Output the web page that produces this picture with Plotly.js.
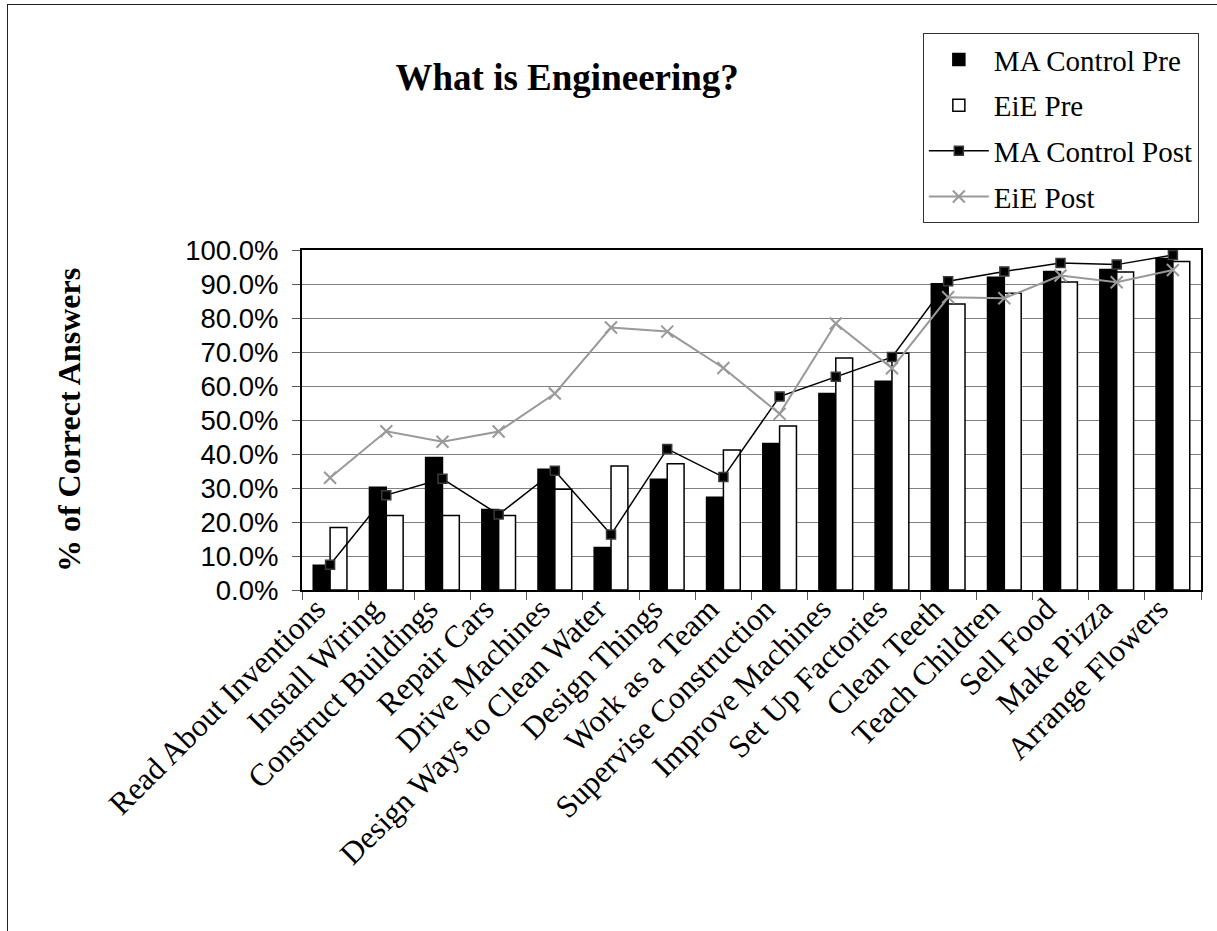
<!DOCTYPE html>
<html>
<head>
<meta charset="utf-8">
<script src="https://cdn.plot.ly/plotly-3.0.1.min.js"></script>
<style>
  html, body { margin: 0; padding: 0; background: #fff; overflow: hidden; }
  #chart { width: 1217px; height: 931px; }
  #frame { position: absolute; left: 7px; top: 4px; width: 3000px; height: 3000px;
           border-left: 1.5px solid #222; border-top: 1.5px solid #222; pointer-events: none; }
</style>
</head>
<body>
<div id="chart"></div>
<div id="frame"></div>
<script>
const categories = [
  "Read About Inventions", "Install Wiring", "Construct Buildings", "Repair Cars",
  "Drive Machines", "Design Ways to Clean Water", "Design Things", "Work as a Team",
  "Supervise Construction", "Improve Machines", "Set Up Factories", "Clean Teeth",
  "Teach Children", "Sell Food", "Make Pizza", "Arrange Flowers"
];
const maControlPre  = [0.073, 0.302, 0.390, 0.237, 0.355, 0.125, 0.326, 0.273, 0.431, 0.578, 0.614, 0.901, 0.920, 0.937, 0.943, 0.975];
const eiePre        = [0.184, 0.219, 0.219, 0.219, 0.296, 0.365, 0.371, 0.412, 0.482, 0.682, 0.696, 0.841, 0.873, 0.906, 0.935, 0.966];
const maControlPost = [0.074, 0.279, 0.327, 0.222, 0.351, 0.163, 0.415, 0.332, 0.569, 0.627, 0.685, 0.908, 0.937, 0.962, 0.957, 0.985];
const eiePost       = [0.330, 0.467, 0.436, 0.466, 0.578, 0.772, 0.760, 0.653, 0.518, 0.784, 0.652, 0.861, 0.858, 0.925, 0.905, 0.941];
const yTickVals = [0, 0.1, 0.2, 0.3, 0.4, 0.5, 0.6, 0.7, 0.8, 0.9, 1.0];

const serif = "Times New Roman, Liberation Serif, serif";
const sans = "Arial, Liberation Sans, sans-serif";

const traces = [
  { type: "bar", name: "MA Control Pre", legendgroup: "g1", x: categories, y: maControlPre,
    marker: { color: "#000000", line: { color: "#000000", width: 1.5 } } },
  { type: "bar", name: "EiE Pre", legendgroup: "g2", x: categories, y: eiePre,
    marker: { color: "#ffffff", line: { color: "#000000", width: 1.5 } } },
  { type: "scatter", mode: "lines+markers", name: "MA Control Post", legendgroup: "g3", x: categories, y: maControlPost,
    line: { color: "#000000", width: 1.5 },
    marker: { symbol: "square", size: 9, color: "#000000", line: { color: "#3a3a3a", width: 1.5 } } },
  { type: "scatter", mode: "lines+markers", name: "EiE Post", legendgroup: "g4", x: categories, y: eiePost,
    line: { color: "#999999", width: 2 },
    marker: { symbol: "x-thin", size: 12, color: "#999999", line: { color: "#999999", width: 2 } } }
];

const layout = {
  width: 1217, height: 931,
  margin: { l: 301.5, r: 15.5, t: 250, b: 341 },
  paper_bgcolor: "#ffffff", plot_bgcolor: "#ffffff",
  barmode: "group", bargap: 0.4, bargroupgap: 0,
  showlegend: true,
  title: { text: "<b>What is Engineering?</b>", font: { family: serif, size: 37, color: "#000" },
           xref: "paper", x: 0.295, xanchor: "center", yref: "container", y: 0.917, yanchor: "middle" },
  legend: { x: 0.6906, y: 1.638, xanchor: "left", yanchor: "top",
            font: { family: serif, size: 29, color: "#000" }, itemwidth: 60, tracegroupgap: 5,
            bordercolor: "#333", borderwidth: 1, bgcolor: "#fff", traceorder: "grouped" },
  xaxis: { type: "category", range: [-0.5, 15.5], tickangle: -45, tickson: "boundaries", ticks: "outside", ticklen: 8,
           tickcolor: "#555", tickwidth: 1, showgrid: false, showline: true, linecolor: "#000",
           linewidth: 2, mirror: true, ticklabelshift: -14, ticklabelstandoff: -14,
           tickfont: { family: serif, size: 31.5, color: "#000" } },
  yaxis: { range: [0, 1], tickvals: yTickVals, tickformat: ".1%", ticks: "outside", ticklen: 8,
           tickcolor: "#555", tickwidth: 1, showgrid: true, gridcolor: "#808080", gridwidth: 1,
           zeroline: false, showline: true, linecolor: "#000", linewidth: 2, mirror: true,
           ticklabelstandoff: 8,
           tickfont: { family: sans, size: 27.5, color: "#000" },
           title: { text: "<b>% of Correct Answers</b>", font: { family: serif, size: 32, color: "#000" }, standoff: 95 } }
};

Plotly.newPlot("chart", traces, layout, { displayModeBar: false, staticPlot: true });
</script>
</body>
</html>
